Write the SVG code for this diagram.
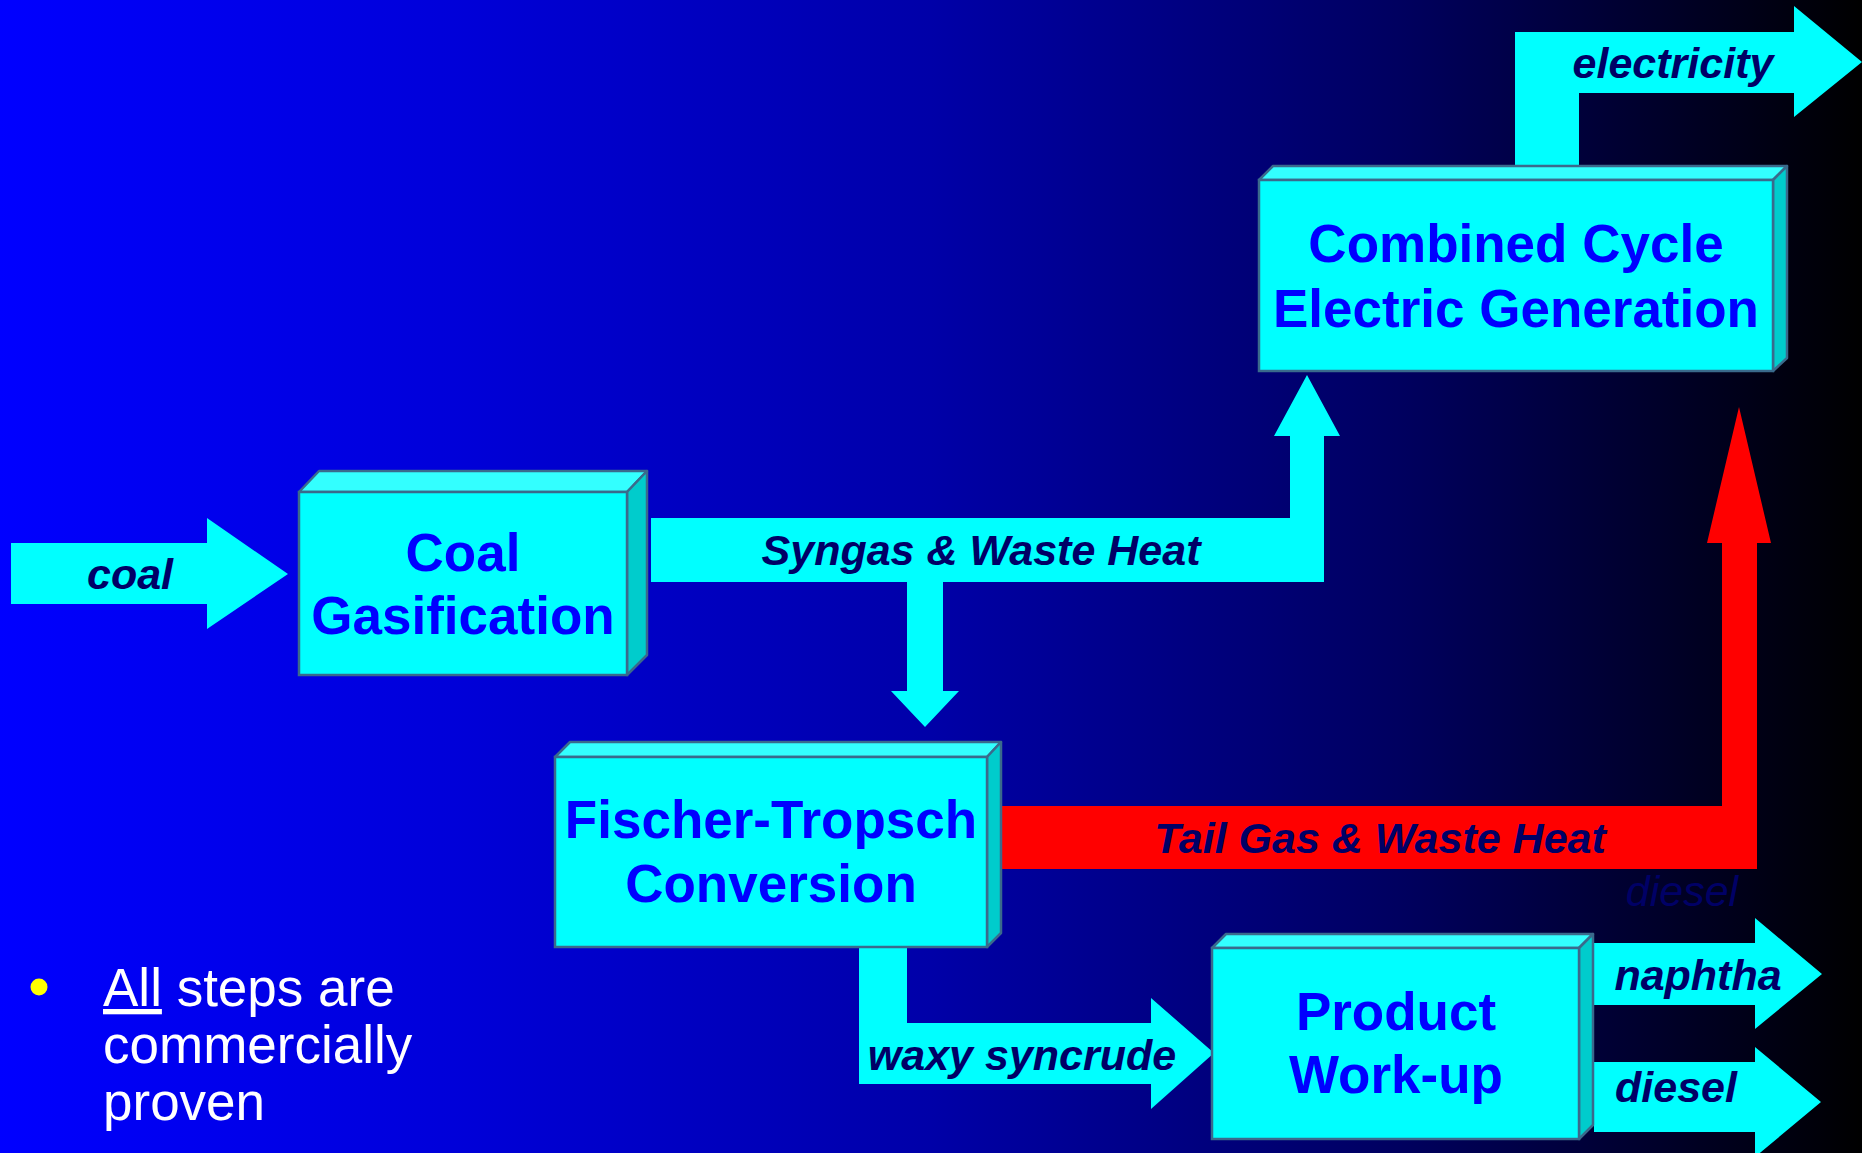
<svg xmlns="http://www.w3.org/2000/svg" width="1862" height="1153" viewBox="0 0 1862 1153">
<defs>
<linearGradient id="bg" x1="0" y1="0" x2="1" y2="0">
<stop offset="0" stop-color="#0000FF"/>
<stop offset="0.25" stop-color="#0000D8"/>
<stop offset="0.5" stop-color="#0000A8"/>
<stop offset="0.75" stop-color="#000060"/>
<stop offset="1" stop-color="#000000"/>
</linearGradient>
<style>
.front{fill:#00FFFF;stroke:#3A6A8C;stroke-width:2.5}
.top{fill:#33FFFF;stroke:#3A6A8C;stroke-width:2.5;stroke-linejoin:round}
.side{fill:#00CCCC;stroke:#3A6A8C;stroke-width:2.5;stroke-linejoin:round}
.btxt{font-family:"Liberation Sans",Arial,sans-serif;font-weight:bold;font-size:53px;fill:#0000FF;text-anchor:middle}
.lbl{font-family:"Liberation Sans",Arial,sans-serif;font-weight:bold;font-style:italic;font-size:43px;fill:#000066;text-anchor:middle}
.cyan{fill:#00FFFF}
.red{fill:#FF0000}
</style>
</defs>
<rect width="1862" height="1153" fill="url(#bg)"/>

<g id="connectors">
<polygon class="cyan" points="11,543 207,543 207,518 288,574 207,629 207,604 11,604"/>
<polygon class="cyan" points="651,518 1290,518 1290,436 1274,436 1307,375 1340,436 1324,436 1324,582 943,582 943,691 959,691 925,727 891,691 907,691 907,582 651,582"/>
<polygon class="cyan" points="1515,170 1515,32 1794,32 1794,6 1862,62 1794,117 1794,93 1579,93 1579,170"/>
<polygon class="red" points="1002,806 1722,806 1722,543 1707,543 1739,407 1771,543 1757,543 1757,869 1002,869"/>
<polygon class="cyan" points="859,940 907,940 907,1023 1151,1023 1151,998 1214,1053 1151,1109 1151,1084 859,1084"/>
<polygon class="cyan" points="1594,943 1755,943 1755,918 1822,974 1755,1029 1755,1005 1594,1005"/>
<polygon class="cyan" points="1594,1062 1755,1062 1755,1047 1821,1102 1755,1157 1755,1132 1594,1132"/>
<text class="lbl" x="130" y="589">coal</text>
<text class="lbl" x="981" y="565">Syngas &amp; Waste Heat</text>
<text class="lbl" x="1673" y="78">electricity</text>
<text class="lbl" x="1380" y="853">Tail Gas &amp; Waste Heat</text>
<text class="lbl" x="1682" y="906" style="font-weight:normal">diesel</text>
<text class="lbl" x="1022" y="1070">waxy syncrude</text>
<text class="lbl" x="1698" y="990">naphtha</text>
<text class="lbl" x="1676" y="1102">diesel</text>
</g>

<g id="coal-gasification">
<polygon class="top" points="299,492 319,471 647,471 627,492"/>
<polygon class="side" points="627,492 647,471 647,655 627,675"/>
<rect class="front" x="299" y="492" width="328" height="183"/>
<text class="btxt" x="463" y="571">Coal</text>
<text class="btxt" x="463" y="634">Gasification</text>
</g>

<g id="combined-cycle">
<polygon class="top" points="1259,180 1273,166 1787,166 1773,180"/>
<polygon class="side" points="1773,180 1787,166 1787,358 1773,371"/>
<rect class="front" x="1259" y="180" width="514" height="191"/>
<text class="btxt" x="1516" y="262">Combined Cycle</text>
<text class="btxt" x="1516" y="327">Electric Generation</text>
</g>

<g id="fischer-tropsch">
<polygon class="top" points="555,757 570,742 1001,742 987,757"/>
<polygon class="side" points="987,757 1001,742 1001,933 987,947"/>
<rect class="front" x="555" y="757" width="432" height="190"/>
<text class="btxt" x="771" y="838">Fischer-Tropsch</text>
<text class="btxt" x="771" y="902">Conversion</text>
</g>

<g id="product-workup">
<polygon class="top" points="1212,948 1226,934 1593,934 1579,948"/>
<polygon class="side" points="1579,948 1593,934 1593,1125 1579,1139"/>
<rect class="front" x="1212" y="948" width="367" height="191"/>
<text class="btxt" x="1396" y="1030">Product</text>
<text class="btxt" x="1396" y="1093">Work-up</text>
</g>

<g id="note">
<circle cx="39" cy="987" r="8.5" fill="#FFFF00"/>
<text font-family="'Liberation Sans',Arial,sans-serif" font-size="53" fill="#FFFFFF">
<tspan x="103" y="1006"><tspan text-decoration="underline">All</tspan> steps are</tspan>
<tspan x="103" y="1063">commercially</tspan>
<tspan x="103" y="1120">proven</tspan>
</text>
</g>
</svg>
